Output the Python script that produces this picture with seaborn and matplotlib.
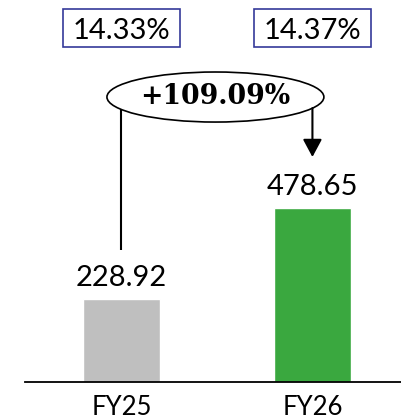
import matplotlib
matplotlib.use("Agg")
import matplotlib.pyplot as plt
import seaborn as sns
from matplotlib.patches import Ellipse, Rectangle

# Data
categories = ["FY25", "FY26"]
values = [228.92, 478.65]
margins = ["14.33%", "14.37%"]
growth = "+109.09%"
bar_colors = ["#bfbfbf", "#3aa83f"]

sns.set_theme(style="white")
plt.rcParams["font.family"] = ["Lato", "DejaVu Sans"]

fig = plt.figure(figsize=(4.02, 4.19), dpi=100)
ax = fig.add_axes([25 / 402, 37 / 419, 377 / 402, 382 / 419])

sns.barplot(x=categories, y=values, hue=categories, palette=bar_colors,
            legend=False, width=0.403, saturation=1, ax=ax)
ax.set_xlim(-0.505, 1.469)
ax.set_ylim(0, 1049)

label_size = 21

# Value labels above bars
for i, v in enumerate(values):
    ax.annotate(f"{v:.2f}", (i, v), xytext=(0, 9), textcoords="offset points",
                ha="center", va="baseline", fontsize=label_size, color="black")

trans = ax.get_xaxis_transform()

# Margin boxes along the top
for i, m in enumerate(margins):
    ax.add_patch(Rectangle((i - 0.3065, 0.876), 0.613, 0.0995, transform=trans,
                           fill=False, edgecolor="#35399a", lw=1.2, clip_on=False))
    ax.text(i, 0.898, m, transform=trans, ha="center", va="baseline",
            fontsize=label_size, color="black")

# Growth callout
ax.add_patch(Ellipse((0.492, 0.746), width=1.136, height=0.131, transform=trans,
                     fill=False, edgecolor="black", lw=1.2, clip_on=False))
ax.text(0.492, 0.728, growth, transform=trans, ha="center", va="baseline",
        fontsize=19.3, fontweight="bold", family="DejaVu Serif", color="black")

ax.plot([0, 0], [0.714, 0.346], transform=trans, color="black", lw=1.5,
        solid_capstyle="butt")
ax.annotate("", xy=(1, 0.589), xytext=(1, 0.717),
            xycoords=("data", "axes fraction"), textcoords=("data", "axes fraction"),
            arrowprops=dict(arrowstyle="-|>,head_length=1.08,head_width=0.58",
                            mutation_scale=10, color="black", lw=1.5,
                            shrinkA=0, shrinkB=0))

# Axis styling
ax.set_yticks([])
ax.set_xlabel("")
ax.set_ylabel("")
ax.tick_params(axis="x", length=0, pad=9, labelsize=18.5, labelcolor="black")
for side in ["left", "top", "right"]:
    ax.spines[side].set_visible(False)
ax.spines["bottom"].set_color("black")
ax.spines["bottom"].set_linewidth(1.3)

fig.savefig("out.png", dpi=100)
